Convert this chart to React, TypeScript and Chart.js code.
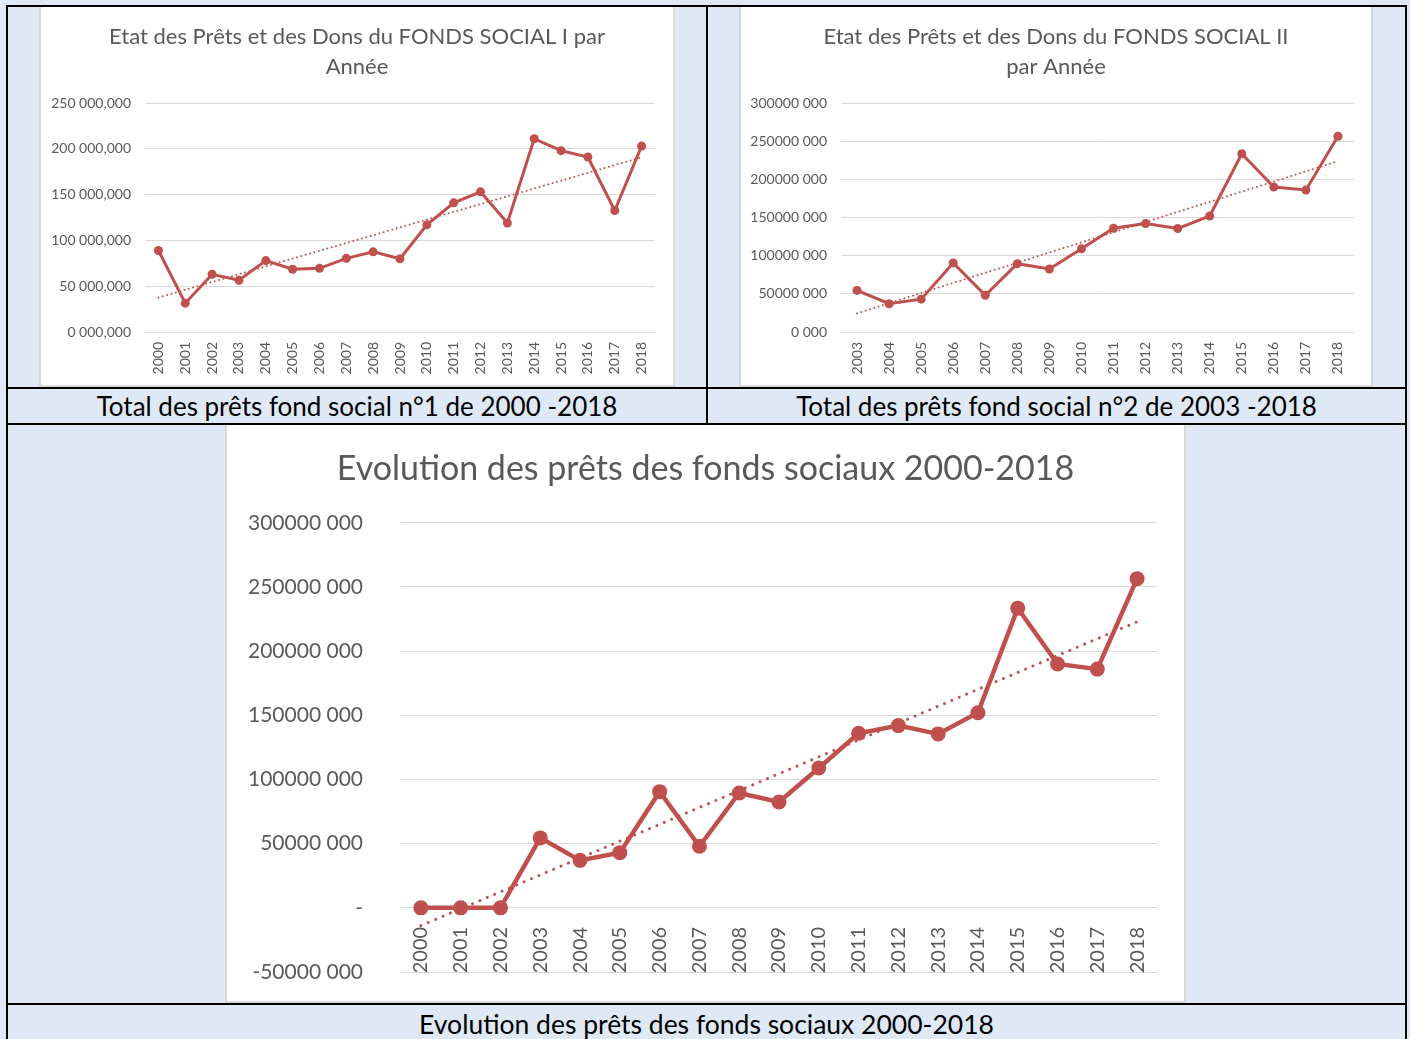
import React, { useEffect, useRef } from 'react';
import { Chart, registerables } from 'chart.js';

Chart.register(...registerables);

// ---------- data ----------
const yearsFonds1 = ['2000', '2001', '2002', '2003', '2004', '2005', '2006', '2007', '2008', '2009', '2010', '2011', '2012', '2013', '2014', '2015', '2016', '2017', '2018'];
const fonds1Values = [89000000, 31500000, 63000000, 56500000, 78000000, 68500000, 69500000, 80400000, 87500000, 80000000, 117000000, 141000000, 153000000, 119000000, 211000000, 198000000, 191000000, 132600000, 203000000];

const yearsFonds2 = ['2003', '2004', '2005', '2006', '2007', '2008', '2009', '2010', '2011', '2012', '2013', '2014', '2015', '2016', '2017', '2018'];
const fonds2Values = [54500000, 37000000, 43000000, 90500000, 48000000, 89500000, 82500000, 109000000, 136000000, 142000000, 135500000, 152000000, 233500000, 190000000, 186000000, 256500000];

const yearsEvolution = ['2000', '2001', '2002', '2003', '2004', '2005', '2006', '2007', '2008', '2009', '2010', '2011', '2012', '2013', '2014', '2015', '2016', '2017', '2018'];
const evolutionValues = [0, 0, 0, 54500000, 37000000, 43000000, 90500000, 48000000, 89500000, 82500000, 109000000, 136000000, 142000000, 135500000, 152000000, 233500000, 190000000, 186000000, 256500000];

const fonds1TickLabels = ['0 000,000', '50 000,000', '100 000,000', '150 000,000', '200 000,000', '250 000,000'];
const fonds2TickLabels = ['0 000', '50000 000', '100000 000', '150000 000', '200000 000', '250000 000', '300000 000'];
const evolutionTickLabels = ['-50000 000', '-', '50000 000', '100000 000', '150000 000', '200000 000', '250000 000', '300000 000'];

const fonds1Title = ['Etat des Prêts et des Dons du FONDS SOCIAL I par', 'Année'];
const fonds2Title = ['Etat des Prêts et des Dons du FONDS SOCIAL II', 'par Année'];
const evolutionTitle = 'Evolution des prêts des fonds sociaux 2000-2018';

const caption1 = 'Total des prêts fond social n°1 de 2000 -2018';
const caption2 = 'Total des prêts fond social n°2 de 2003 -2018';
const caption3 = 'Evolution des prêts des fonds sociaux 2000-2018';

// ---------- styles ----------
const RED = '#c0504d';
const TEXT = '#595959';
const GRID = '#d9d9d9';
const BG = '#dee9f5';
const FONT = 'Lato, "Open Sans", sans-serif';

function linearTrend(values: number[]): number[] {
  const n = values.length;
  const xm = (n - 1) / 2;
  const ym = values.reduce((a, b) => a + b, 0) / n;
  let num = 0;
  let den = 0;
  values.forEach((v, i) => {
    num += (i - xm) * (v - ym);
    den += (i - xm) * (i - xm);
  });
  const slope = num / den;
  return values.map((_, i) => ym + slope * (i - xm));
}

interface Spec {
  width: number;
  height: number;
  labels: string[];
  values: number[];
  tickLabels: string[];
  min: number;
  max: number;
  title: string | string[];
  titleSize: number;
  titleLineHeight: number;
  titlePadTop: number;
  titlePadBottom: number;
  yWidth: number;
  yPad: number;
  yFont: number;
  xHeight: number;
  xPad: number;
  xFont: number;
  rightPad: number;
  bottomPad: number;
  lineWidth: number;
  pointRadius: number;
  trendWidth: number;
  trendGap: number;
  zeroAxis: boolean;
}

function ChartCanvas({ spec }: { spec: Spec }) {
  const ref = useRef<HTMLCanvasElement | null>(null);
  useEffect(() => {
    if (!ref.current) return;
    const s = spec;
    const chart = new Chart(ref.current, {
      type: 'line',
      data: {
        labels: s.labels,
        datasets: [
          {
            label: 'Total',
            data: s.values,
            borderColor: RED,
            backgroundColor: RED,
            pointBackgroundColor: RED,
            pointBorderColor: RED,
            borderWidth: s.lineWidth,
            pointRadius: s.pointRadius,
            pointBorderWidth: 0,
            tension: 0,
            fill: false,
            order: 2,
          },
          {
            label: 'Tendance',
            data: linearTrend(s.values),
            borderColor: RED,
            borderWidth: s.trendWidth,
            borderDash: [0.01, s.trendGap],
            borderCapStyle: 'round',
            pointRadius: 0,
            tension: 0,
            fill: false,
            order: 1,
          },
        ],
      },
      options: {
        responsive: false,
        animation: false,
        devicePixelRatio: 1,
        layout: { padding: { left: 0, right: 0, top: 0, bottom: s.bottomPad } },
        plugins: {
          legend: { display: false },
          tooltip: { enabled: false },
          title: {
            display: true,
            text: s.title,
            color: TEXT,
            font: { family: FONT, size: s.titleSize, weight: 'normal', lineHeight: s.titleLineHeight },
            padding: { top: s.titlePadTop, bottom: s.titlePadBottom },
          },
        },
        scales: {
          x: {
            type: 'category',
            offset: true,
            position: s.zeroAxis ? { y: 0 } : 'bottom',
            grid: { display: false, drawTicks: false },
            border: { display: false },
            ticks: {
              color: TEXT,
              font: { family: FONT, size: s.xFont },
              minRotation: 90,
              maxRotation: 90,
              autoSkip: false,
              padding: s.xPad,
            },
            afterFit: (scale: any) => {
              scale.height = s.xHeight;
            },
          },
          y: {
            type: 'linear',
            min: s.min,
            max: s.max,
            grid: { color: GRID, lineWidth: 1, drawTicks: false },
            border: { display: false },
            ticks: {
              stepSize: 50000000,
              color: TEXT,
              font: { family: FONT, size: s.yFont },
              padding: s.yPad,
              callback: (_v: any, i: number) => s.tickLabels[i],
            },
            afterFit: (scale: any) => {
              scale.width = s.yWidth;
              scale.paddingTop = 0;
              scale.paddingBottom = 0;
            },
          },
          yRight: {
            type: 'linear',
            position: 'right',
            display: true,
            grid: { display: false, drawTicks: false },
            border: { display: false },
            ticks: { display: false },
            afterFit: (scale: any) => {
              scale.width = s.rightPad;
              scale.paddingTop = 0;
              scale.paddingBottom = 0;
            },
          },
        },
      } as any,
    });
    return () => chart.destroy();
  }, [spec]);
  return <canvas ref={ref} width={spec.width} height={spec.height} style={{ display: 'block', width: spec.width, height: spec.height }} />;
}

const spec1: Spec = {
  width: 632, height: 377,
  labels: yearsFonds1, values: fonds1Values, tickLabels: fonds1TickLabels,
  min: 0, max: 250000000,
  title: fonds1Title, titleSize: 22, titleLineHeight: 1.364, titlePadTop: 14, titlePadBottom: 21,
  yWidth: 104, yPad: 14, yFont: 14,
  xHeight: 53, xPad: 10, xFont: 14,
  rightPad: 18, bottomPad: 0, lineWidth: 3, pointRadius: 4.5, trendWidth: 2, trendGap: 4.5, zeroAxis: false,
};

const spec2: Spec = {
  width: 630, height: 377,
  labels: yearsFonds2, values: fonds2Values, tickLabels: fonds2TickLabels,
  min: 0, max: 300000000,
  title: fonds2Title, titleSize: 22, titleLineHeight: 1.364, titlePadTop: 14, titlePadBottom: 21,
  yWidth: 100, yPad: 14, yFont: 14,
  xHeight: 53, xPad: 10, xFont: 14,
  rightPad: 17, bottomPad: 0, lineWidth: 3, pointRadius: 4.5, trendWidth: 2, trendGap: 4.5, zeroAxis: false,
};

const spec3: Spec = {
  width: 957, height: 574,
  labels: yearsEvolution, values: evolutionValues, tickLabels: evolutionTickLabels,
  min: -50000000, max: 300000000,
  title: evolutionTitle, titleSize: 34, titleLineHeight: 1.2, titlePadTop: 23, titlePadBottom: 33,
  yWidth: 174, yPad: 38, yFont: 21,
  xHeight: 28, xPad: 19, xFont: 20,
  rightPad: 27, bottomPad: 28, lineWidth: 4.5, pointRadius: 7.5, trendWidth: 3, trendGap: 8, zeroAxis: true,
};

function Rect({ l, t, w, h, c }: { l: number; t: number; w: number; h: number; c: string }) {
  return <div style={{ position: 'absolute', left: l, top: t, width: w, height: h, background: c }} />;
}

function Panel({ l, t, w, h }: { l: number; t: number; w: number; h: number }) {
  return (
    <div
      style={{
        position: 'absolute', left: l, top: t, width: w, height: h, background: '#ffffff',
        borderLeft: `2px solid ${GRID}`, borderRight: `2px solid ${GRID}`, borderBottom: `2px solid ${GRID}`,
        boxSizing: 'border-box',
      }}
    />
  );
}

function Caption({ l, t, w, h, text, size }: { l: number; t: number; w: number; h: number; text: string; size: number }) {
  return (
    <div
      style={{
        position: 'absolute', left: l, top: t, width: w, height: h, display: 'flex',
        alignItems: 'center', justifyContent: 'center', fontFamily: FONT, fontSize: size,
        color: '#000', whiteSpace: 'nowrap', lineHeight: 1,
      }}
    >
      {text}
    </div>
  );
}

export default function App() {
  return (
    <div style={{ position: 'absolute', left: 0, top: 0, width: 1410, height: 1039, background: BG, overflow: 'hidden' }}>
      <Panel l={39} t={7} w={636} h={380} />
      <Panel l={739} t={7} w={634} h={380} />
      <Panel l={225} t={425} w={961} h={578} />
      <div style={{ position: 'absolute', left: 41, top: 8 }}><ChartCanvas spec={spec1} /></div>
      <div style={{ position: 'absolute', left: 741, top: 8 }}><ChartCanvas spec={spec2} /></div>
      <div style={{ position: 'absolute', left: 227, top: 426 }}><ChartCanvas spec={spec3} /></div>
      {/* table borders */}
      <Rect l={6} t={5} w={1401} h={2} c="#000" />
      <Rect l={6} t={5} w={2} h={1040} c="#000" />
      <Rect l={1405} t={5} w={2} h={1040} c="#000" />
      <Rect l={706} t={5} w={2} h={420} c="#000" />
      <Rect l={6} t={387} w={1401} h={2} c="#000" />
      <Rect l={6} t={423} w={1401} h={2} c="#000" />
      <Rect l={6} t={1003} w={1401} h={2} c="#000" />
      <Caption l={8} t={389} w={698} h={34} text={caption1} size={26} />
      <Caption l={708} t={389} w={697} h={34} text={caption2} size={26} />
      <Caption l={8} t={1005} w={1397} h={38} text={caption3} size={26.5} />
    </div>
  );
}
